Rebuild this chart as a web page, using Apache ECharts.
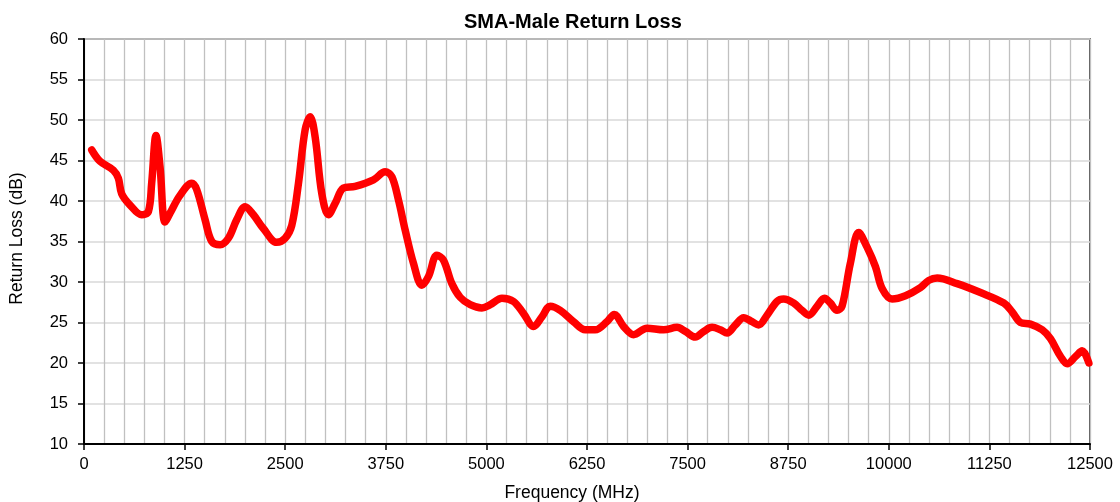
<!DOCTYPE html>
<html>
<head>
<meta charset="utf-8">
<script src="https://cdn.jsdelivr.net/npm/echarts@6/dist/echarts.min.js"></script>
<style>html,body{margin:0;padding:0;background:#fff;}#c{width:1120px;height:502px;}</style>
</head>
<body>
<div id="c"></div>
<script>
const chartTitle = 'SMA-Male Return Loss';
const xAxisName = 'Frequency (MHz)';
const yAxisName = 'Return Loss (dB)';
const frequency = [96,199,365,427,468,572,717,800,841,895,945,1007,1069,1193,1339,1401,1504,1588,1691,1794,1898,2002,2105,2229,2395,2499,2582,2665,2748,2810,2872,2955,3038,3120,3224,3369,3597,3742,3825,3908,3991,4094,4198,4281,4385,4467,4571,4675,4799,4944,5048,5193,5337,5462,5586,5690,5793,5917,6083,6228,6352,6498,6589,6705,6829,6995,7202,7369,7472,7596,7700,7804,7907,7990,8093,8197,8301,8383,8487,8611,8694,8818,8922,9005,9109,9200,9274,9357,9419,9522,9626,9730,9834,9917,10041,10207,10393,10497,10601,10849,11139,11429,11533,11636,11760,11906,12009,12134,12217,12320,12403,12486];
const returnLoss = [46.3,44.9,43.8,42.8,40.9,39.5,38.3,38.7,42.2,48.1,44.2,37.4,38.5,40.7,42.2,41.4,37.7,35.0,34.6,35.4,37.7,39.3,38.3,36.6,34.9,35.4,37.0,42.2,48.8,50.4,47.9,40.9,38.3,39.7,41.6,41.8,42.6,43.6,43.0,40.1,36.4,32.3,29.6,30.7,33.3,32.7,29.8,28.1,27.2,26.8,27.2,28.0,27.6,26.1,24.5,25.7,27.0,26.5,25.1,24.1,24.1,25.1,26.0,24.5,23.5,24.3,24.1,24.4,23.9,23.2,23.9,24.4,24.1,23.7,24.7,25.6,25.1,24.7,25.9,27.6,27.9,27.4,26.5,25.9,27.0,28.0,27.4,26.5,27.0,32.3,36.1,34.3,31.9,29.2,27.9,28.3,29.3,30.2,30.5,29.8,28.7,27.4,26.3,25.0,24.8,24.1,23.0,20.8,19.9,20.8,21.5,20.0];
const xTicks = {min: 0, max: 12500, step: 1250};
const yTicks = {min: 10, max: 60, step: 5};

const font = '"Liberation Sans", Arial, sans-serif';
const chart = echarts.init(document.getElementById('c'), null, {renderer: 'canvas'});
chart.setOption({
  animation: false,
  backgroundColor: '#fff',
  title: {
    text: chartTitle, left: 459, top: 7,
    textStyle: {fontFamily: font, fontSize: 20, fontWeight: 'bold', color: '#000'}
  },
  grid: {left: 84, right: 30, top: 39, bottom: 58, outerBoundsMode: 'none', containLabel: false, show: true, borderColor: '#222', borderWidth: 1.5, backgroundColor: 'transparent'},
  xAxis: {
    type: 'value', min: xTicks.min, max: xTicks.max, interval: xTicks.step,
    name: xAxisName, nameLocation: 'middle', nameGap: 40,
    nameTextStyle: {fontFamily: font, fontSize: 17.5, color: '#000', padding: [0, 30, 0, 0]},
    axisLine: {show: true, lineStyle: {color: '#000', width: 2}},
    axisTick: {show: true, inside: false, length: 6, lineStyle: {color: '#000', width: 1.5}},
    axisLabel: {fontFamily: font, fontSize: 16.5, color: '#000', margin: 12, formatter: v => String(v)},
    splitLine: {show: true, lineStyle: {color: '#c0c0c0', width: 1.3}},
    minorTick: {show: false, splitNumber: 5},
    minorSplitLine: {show: true, lineStyle: {color: '#c0c0c0', width: 1.3}}
  },
  yAxis: {
    type: 'value', min: yTicks.min, max: yTicks.max, interval: yTicks.step,
    name: yAxisName, nameLocation: 'middle', nameGap: 58, nameRotate: 90,
    nameTextStyle: {fontFamily: font, fontSize: 17.5, color: '#000', padding: [0, 0, 0, 6]},
    axisLine: {show: true, lineStyle: {color: '#000', width: 2}},
    axisTick: {show: true, inside: false, length: 6, lineStyle: {color: '#000', width: 1.5}},
    axisLabel: {fontFamily: font, fontSize: 16.5, color: '#000', margin: 16},
    splitLine: {show: true, lineStyle: {color: '#d9d9d9', width: 1.5}}
  },
  series: [{
    type: 'line',
    data: frequency.map((f, i) => [f, returnLoss[i]]),
    smooth: 0.35,
    showSymbol: false,
    lineStyle: {color: '#ff0000', width: 7.5, cap: 'round', join: 'round'},
    itemStyle: {color: '#ff0000'}
  }]
});
</script>
</body>
</html>
